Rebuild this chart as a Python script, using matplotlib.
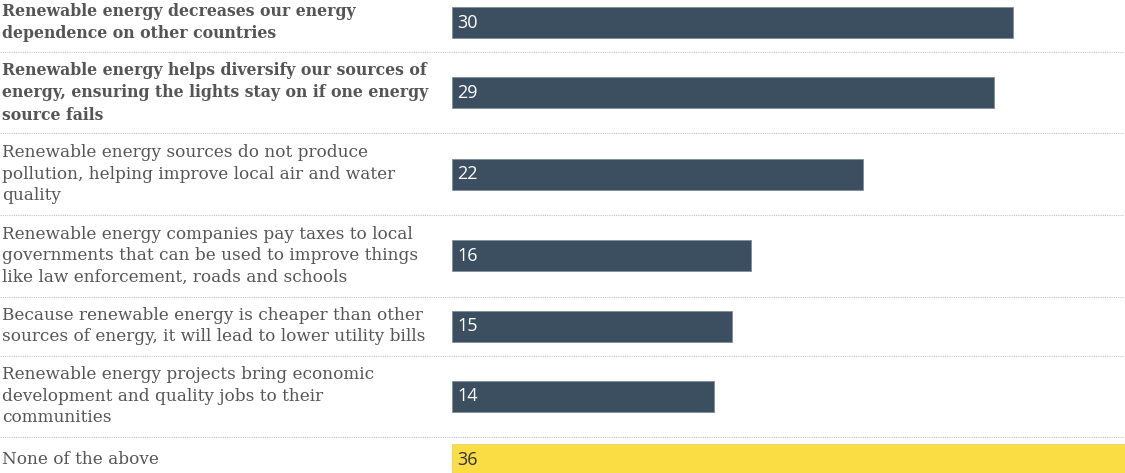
import matplotlib
matplotlib.use('Agg')
import matplotlib.pyplot as plt

# Survey answers, top to bottom
labels = [
    "Renewable energy decreases our energy\ndependence on other countries",
    "Renewable energy helps diversify our sources of\nenergy, ensuring the lights stay on if one energy\nsource fails",
    "Renewable energy sources do not produce\npollution, helping improve local air and water\nquality",
    "Renewable energy companies pay taxes to local\ngovernments that can be used to improve things\nlike law enforcement, roads and schools",
    "Because renewable energy is cheaper than other\nsources of energy, it will lead to lower utility bills",
    "Renewable energy projects bring economic\ndevelopment and quality jobs to their\ncommunities",
    "None of the above",
]
values = [30, 29, 22, 16, 15, 14, 36]
bold = [True, True, False, False, False, False, False]
highlight = [False, False, False, False, False, False, True]

W, H, DPI = 1125, 473, 100
BAR_LEFT = 452          # pixel where the bars start
LINE_H = 22.5           # label line height, px
BAR_H = 31              # bar thickness, px
PAD = 14                # vertical padding per row, px
TOP = -7                # first row is cut off a little at the top

DARK = '#3b4f60'
YELLOW = '#fadc44'
TEXT = '#555555'
RULE = '#c4c4c4'

fig = plt.figure(figsize=(W / DPI, H / DPI), dpi=DPI)
fig.patch.set_facecolor('white')

# background axes in pixel units for labels and separators
bg = fig.add_axes([0, 0, 1, 1])
bg.set_xlim(0, W)
bg.set_ylim(H, 0)
bg.axis('off')

ax = fig.add_axes([BAR_LEFT / W, 0, 1 - BAR_LEFT / W, 1])
ax.set_xlim(0, max(values))
ax.set_ylim(H, 0)
ax.axis('off')

y = TOP
for i, (label, val) in enumerate(zip(labels, values)):
    n_lines = label.count('\n') + 1
    row_h = max(n_lines * LINE_H, BAR_H) + PAD
    center = y + row_h / 2

    if i > 0:
        bg.plot([0, W], [y, y], color=RULE, lw=0.8, ls=(0, (1, 1)), zorder=1)

    # bold face of DejaVu Serif runs wide, so it gets a smaller size
    size = 11.3 if bold[i] else 12.2
    bg.text(2, center, label, ha='left', va='center', fontsize=size,
            family='DejaVu Serif', fontweight='bold' if bold[i] else 'normal',
            color=TEXT, linespacing=1.33 * 12.2 / size)

    ax.barh(center, val, height=BAR_H, left=0,
            color=YELLOW if highlight[i] else DARK,
            edgecolor='#e8d070' if highlight[i] else '#7f8d99',
            linewidth=0.6, zorder=2)
    ax.text(0.3, center, str(val), ha='left', va='center', fontsize=13,
            family='Open Sans', color='#333333' if highlight[i] else 'white',
            zorder=3)

    y += row_h

fig.savefig('out.png', dpi=DPI, facecolor='white')
